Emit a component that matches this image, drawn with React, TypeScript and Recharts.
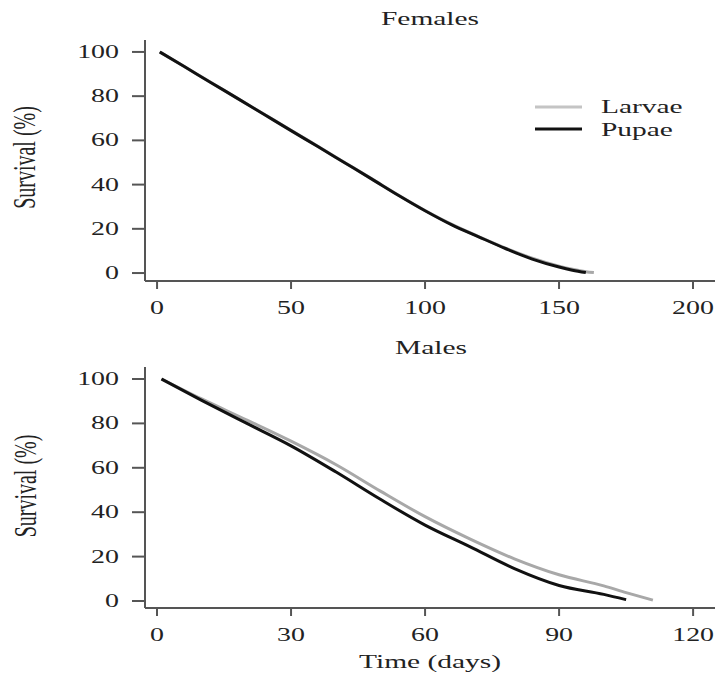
import { LineChart, Line, XAxis, YAxis } from 'recharts';

// Females
const femaleLarvaeDays = [1, 10, 20, 30, 40, 50, 60, 70, 80, 90, 100, 110, 120, 130, 140, 150, 155, 160, 163];
const femaleLarvaeSurv = [100, 93.5, 86.3, 79, 71.8, 64.6, 57.3, 50, 42.7, 35.3, 28.3, 22, 16.5, 11.3, 6.7, 3.1, 1.7, 0.6, 0.2];
const femalePupaeDays = [1, 10, 20, 30, 40, 50, 60, 70, 80, 90, 100, 110, 120, 130, 140, 150, 155, 160];
const femalePupaeSurv = [100, 93.5, 86.2, 79, 71.7, 64.4, 57.2, 49.9, 42.6, 35.2, 28.2, 21.8, 16.4, 11.1, 6.3, 2.7, 1.3, 0.2];

// Males
const maleLarvaeDays = [1, 10, 20, 30, 40, 50, 60, 70, 80, 90, 100, 105, 111];
const maleLarvaeSurv = [100, 91, 81.6, 72, 61.5, 49.5, 38, 28, 19, 11.8, 6.8, 3.8, 0.4];
const malePupaeDays = [1, 10, 20, 30, 40, 50, 60, 70, 80, 90, 100, 105];
const malePupaeSurv = [100, 90.4, 80.1, 69.9, 58.2, 45.8, 34.2, 24.5, 14.6, 7, 3, 0.6];

const femaleTicks = [0, 50, 100, 150, 200];
const maleTicks = [0, 30, 60, 90, 120];
const survTicks = [0, 20, 40, 60, 80, 100];

const toPoints = (days: number[], surv: number[]) =>
  days.map((d, i) => ({ day: d, surv: surv[i] }));

const FONT = 'Liberation Serif, Times New Roman, serif';
const STRETCH = 'scale(1.55,1)';
const AXIS = '#555';
const LARVAE = '#a8a8a8';
const PUPAE = '#111';

const XTick = (props: any) => {
  const { x, y, payload } = props;
  return (
    <text transform={`translate(${x},${y + 25}) ${STRETCH}`} textAnchor='middle' fontFamily={FONT} fontSize={18} fill='#222'>
      {payload.value}
    </text>
  );
};

const YTick = (props: any) => {
  const { x, y, payload } = props;
  return (
    <text transform={`translate(${x},${y + 6}) ${STRETCH}`} textAnchor='end' fontFamily={FONT} fontSize={18} fill='#222'>
      {payload.value}
    </text>
  );
};

const Panel = ({ top, height, margin, xDomain, xTicks, yDomain, xAxisHeight, larvae, pupae }: any) => (
  <div style={{ position: 'absolute', left: 0, top }}>
    <LineChart width={718} height={height} margin={margin}>
      <XAxis
        type='number'
        dataKey='day'
        domain={xDomain}
        ticks={xTicks}
        allowDataOverflow
        height={xAxisHeight}
        tickSize={8}
        tickMargin={0}
        axisLine={{ stroke: AXIS, strokeWidth: 2 }}
        tickLine={{ stroke: AXIS, strokeWidth: 2 }}
        tick={XTick}
      />
      <YAxis
        type='number'
        dataKey='surv'
        domain={yDomain}
        ticks={survTicks}
        allowDataOverflow
        width={145}
        tickSize={13}
        tickMargin={13}
        axisLine={{ stroke: AXIS, strokeWidth: 2 }}
        tickLine={{ stroke: AXIS, strokeWidth: 2 }}
        tick={YTick}
      />
      <Line data={larvae} dataKey='surv' name='Larvae' type='monotone' stroke={LARVAE} strokeWidth={3} dot={false} isAnimationActive={false} />
      <Line data={pupae} dataKey='surv' name='Pupae' type='monotone' stroke={PUPAE} strokeWidth={3} dot={false} isAnimationActive={false} />
    </LineChart>
  </div>
);

const App = () => (
  <div style={{ position: 'absolute', left: 0, top: 0, width: 718, height: 677, background: '#fff' }}>
    <Panel
      top={0}
      height={340}
      margin={{ top: 40, right: 3, bottom: 0, left: 0 }}
      xAxisHeight={59}
      xDomain={[-4.5, 208.2]}
      xTicks={femaleTicks}
      yDomain={[-3.6, 105.4]}
      larvae={toPoints(femaleLarvaeDays, femaleLarvaeSurv)}
      pupae={toPoints(femalePupaeDays, femalePupaeSurv)}
    />
    <Panel
      top={340}
      height={337}
      margin={{ top: 27, right: 3, bottom: 0, left: 0 }}
      xAxisHeight={69}
      xDomain={[-2.69, 124.9]}
      xTicks={maleTicks}
      yDomain={[-3.15, 105.4]}
      larvae={toPoints(maleLarvaeDays, maleLarvaeSurv)}
      pupae={toPoints(malePupaeDays, malePupaeSurv)}
    />
    <svg width={718} height={677} style={{ position: 'absolute', left: 0, top: 0, pointerEvents: 'none' }}>
      <text transform={`translate(430,25) ${STRETCH}`} textAnchor='middle' fontFamily={FONT} fontSize={19} fill='#222'>Females</text>
      <text transform={`translate(431,354) ${STRETCH}`} textAnchor='middle' fontFamily={FONT} fontSize={19} fill='#222'>Males</text>
      <text transform={`translate(430,668) ${STRETCH}`} textAnchor='middle' fontFamily={FONT} fontSize={19} fill='#222'>Time (days)</text>
      <text transform={`translate(35,157.5) ${STRETCH} rotate(-90)`} textAnchor='middle' fontFamily={FONT} fontSize={20} fill='#222'>Survival (%)</text>
      <text transform={`translate(36,486) ${STRETCH} rotate(-90)`} textAnchor='middle' fontFamily={FONT} fontSize={20} fill='#222'>Survival (%)</text>
      {/* legend */}
      <line x1={535} x2={582} y1={107} y2={107} stroke='#c4c4c4' strokeWidth={3} />
      <line x1={535} x2={582} y1={129} y2={129} stroke={PUPAE} strokeWidth={3} />
      <text transform={`translate(601,113) ${STRETCH}`} fontFamily={FONT} fontSize={19} fill='#222'>Larvae</text>
      <text transform={`translate(601,136) ${STRETCH}`} fontFamily={FONT} fontSize={19} fill='#222'>Pupae</text>
    </svg>
  </div>
);

export default App;
